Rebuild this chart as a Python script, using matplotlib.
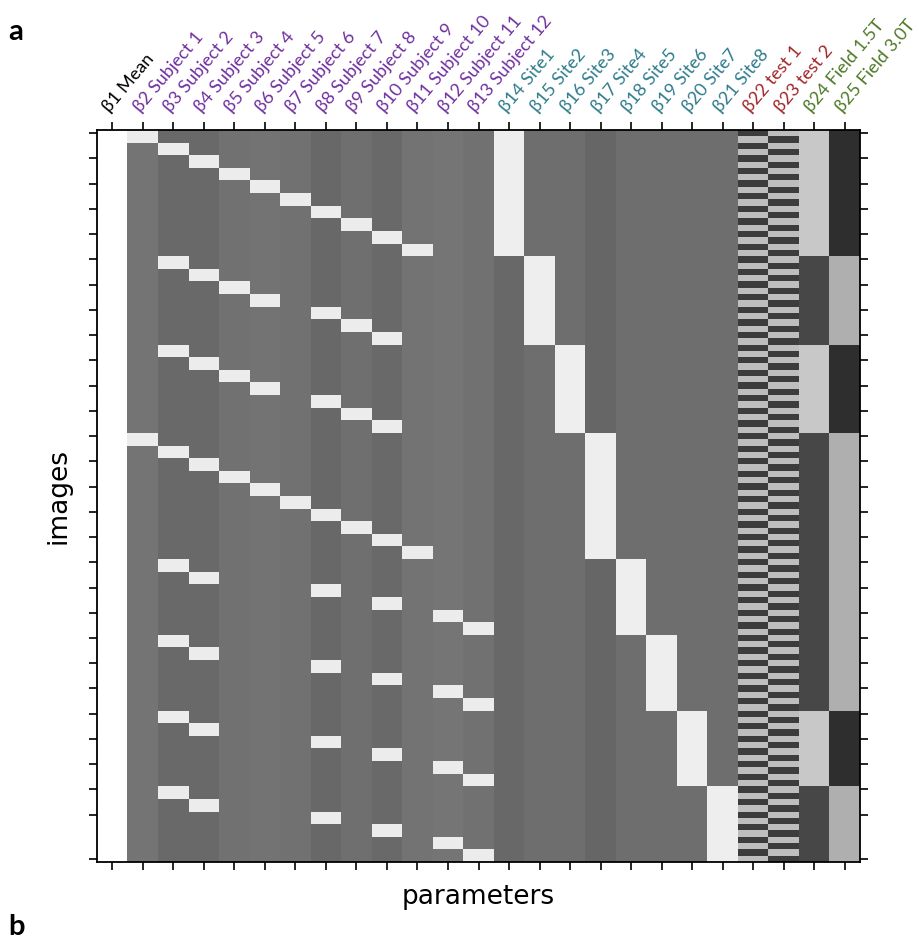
import numpy as np
import matplotlib.pyplot as plt

# column names of the design matrix
labels = ['β1 Mean',
          'β2 Subject 1', 'β3 Subject 2', 'β4 Subject 3', 'β5 Subject 4',
          'β6 Subject 5', 'β7 Subject 6', 'β8 Subject 7', 'β9 Subject 8',
          'β10 Subject 9', 'β11 Subject 10', 'β12 Subject 11', 'β13 Subject 12',
          'β14 Site1', 'β15 Site2', 'β16 Site3', 'β17 Site4',
          'β18 Site5', 'β19 Site6', 'β20 Site7', 'β21 Site8',
          'β22 test 1', 'β23 test 2', 'β24 Field 1.5T', 'β25 Field 3.0T']
label_group = ['mean'] + ['subject'] * 12 + ['site'] * 8 + ['test'] * 2 + ['field'] * 2

# subjects scanned at each site (each visit = test + retest image)
site_subjects = [
    [1, 2, 3, 4, 5, 6, 7, 8, 9, 10],
    [2, 3, 4, 5, 7, 8, 9],
    [2, 3, 4, 5, 7, 8, 9],
    [1, 2, 3, 4, 5, 6, 7, 8, 9, 10],
    [2, 3, 7, 9, 11, 12],
    [2, 3, 7, 9, 11, 12],
    [2, 3, 7, 9, 11, 12],
    [2, 3, 7, 9, 11, 12],
]
site_field = ['1.5T', '3.0T', '1.5T', '3.0T', '3.0T', '3.0T', '1.5T', '3.0T']
tests = [1, 2]

# grey level of each column where the regressor is off / on
off_level = [255, 116, 105, 105, 114, 115, 113, 104, 111, 106, 115, 117, 114,
             104, 110, 110, 102, 110, 110, 110, 110, 190, 190, 71, 46]
on_level = [255] + [236] * 12 + [238] * 8 + [60, 60, 200, 175]

group_colors = {'mean': 'black', 'subject': '#7030A0', 'site': '#2E7B8C',
                'test': '#A0282A', 'field': '#4F7A28'}


def build_design():
    rows = []
    for s, subs in enumerate(site_subjects):
        for subj in subs:
            for t in tests:
                r = np.zeros(len(labels))
                r[0] = 1
                r[subj] = 1
                r[13 + s] = 1
                r[20 + t] = 1
                r[23 if site_field[s] == '1.5T' else 24] = 1
                rows.append(r)
    return np.array(rows)


X = build_design()
off = np.array(off_level, dtype=float)
on = np.array(on_level, dtype=float)
img = off + X * (on - off)

fig = plt.figure(figsize=(9.19, 9.5), dpi=100)
ax = fig.add_axes([97 / 919, 1 - 862 / 950, 763 / 919, 732 / 950])
ax.imshow(img, cmap='gray', vmin=0, vmax=255, aspect='auto', interpolation='nearest')

n = X.shape[0]
ax.set_xticks(np.arange(len(labels)))
ax.set_xticklabels(labels, family=['Lato', 'DejaVu Sans'], fontsize=13)
ax.set_yticks(list(range(0, 112, 4)) + [n - 1])
ax.tick_params(axis='both', direction='out', length=6, width=1.2, top=True, right=True,
               labeltop=True, labelbottom=False, labelleft=False)
ax.tick_params(axis='x', pad=5)
for lab, g in zip(ax.get_xticklabels(), label_group):
    lab.set_color(group_colors[g])
    lab.set_rotation(50)
    lab.set_rotation_mode('anchor')
    lab.set_ha('left')
    lab.set_va('bottom')
for sp in ax.spines.values():
    sp.set_linewidth(1.3)

ax.set_xlabel('parameters', fontsize=19, labelpad=10)
ax.set_ylabel('images', fontsize=19, labelpad=12)

fig.text(8 / 919, 1 - 32 / 950, 'a', fontsize=21, fontweight='bold',
         family=['Lato', 'DejaVu Sans'], va='center')
fig.text(8 / 919, 1 - 927 / 950, 'b', fontsize=21, fontweight='bold',
         family=['Lato', 'DejaVu Sans'], va='center')

plt.savefig('out.png', dpi=100)
